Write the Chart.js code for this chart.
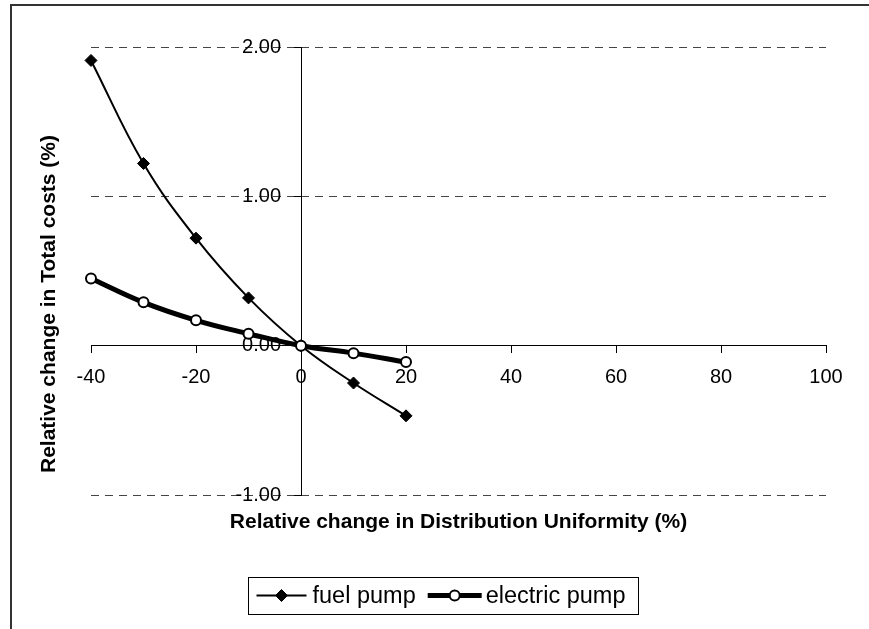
<!DOCTYPE html>
<html><head><meta charset="utf-8">
<script src="https://cdn.jsdelivr.net/npm/chart.js@4.4.1/dist/chart.umd.min.js"></script>
<style>html,body{margin:0;padding:0;background:#fff;overflow:hidden;} #wrap{width:869px;height:629px;}</style>
</head><body><div id="wrap"><canvas id="c" width="869" height="629"></canvas></div>
<script>
const xValues = [-40, -30, -20, -10, 0, 10, 20];
const fuelPump = [1.91, 1.22, 0.72, 0.32, 0.00, -0.25, -0.47];
const electricPump = [0.45, 0.29, 0.17, 0.08, 0.00, -0.05, -0.11];
const xTicks = [-40, -20, 0, 20, 40, 60, 80, 100];
const yTicks = [-1, 0, 1, 2];
const seriesNames = ['fuel pump', 'electric pump'];
const xTitle = 'Relative change in Distribution Uniformity (%)';
const yTitle = 'Relative change in Total costs (%)';

const FONT = "'Liberation Sans', Arial, sans-serif";
const toPts = arr => xValues.map((x, i) => ({x: x, y: arr[i]}));

const decor = {
  id: 'decor',
  afterDraw(chart) {
    const ctx = chart.ctx, ca = chart.chartArea;
    ctx.save();
    // outer frame
    ctx.strokeStyle = '#333'; ctx.lineWidth = 2;
    ctx.beginPath(); ctx.moveTo(11, chart.height + 2); ctx.lineTo(11, 5); ctx.lineTo(chart.width + 2, 5); ctx.stroke();
    // axis titles
    ctx.fillStyle = '#000';
    ctx.font = 'bold 21px ' + FONT;
    ctx.textAlign = 'center'; ctx.textBaseline = 'alphabetic';
    ctx.fillText(xTitle, (ca.left + ca.right) / 2, ca.bottom + 33);
    ctx.save();
    ctx.translate(ca.left - 41.5, (ca.top + ca.bottom) / 2 + 33);
    ctx.rotate(-Math.PI / 2);
    ctx.textBaseline = 'middle';
    ctx.fillText(yTitle, 0, 0);
    ctx.restore();
    // legend
    ctx.font = '23.5px ' + FONT;
    const ds = chart.data.datasets;
    const items = [{d: ds[0], line: 50, gap: 6}, {d: ds[1], line: 54, gap: 4}];
    const padL = 8, padR = 13, between = 12;
    let total = padL + padR + between;
    items.forEach(it => { it.w = ctx.measureText(it.d.label).width; total += it.line + it.gap + it.w; });
    const cx = (ca.left + ca.right) / 2 - 15.5, cy = ca.bottom + 100.5;
    const left = Math.round(cx - total / 2) + 0.5, top = Math.round(cy - 18.5) + 0.5;
    ctx.strokeStyle = '#000'; ctx.lineWidth = 1;
    ctx.strokeRect(left, top, Math.round(total), 37);
    let x = left + padL;
    items.forEach((it, i) => {
      const d = it.d;
      ctx.strokeStyle = d.borderColor; ctx.lineWidth = d.borderWidth;
      ctx.beginPath(); ctx.moveTo(x, cy); ctx.lineTo(x + it.line, cy); ctx.stroke();
      ctx.fillStyle = d.pointBackgroundColor; ctx.strokeStyle = d.pointBorderColor; ctx.lineWidth = d.pointBorderWidth;
      Chart.helpers.drawPoint(ctx, {pointStyle: d.pointStyle, radius: d.pointRadius, rotation: 0, borderWidth: d.pointBorderWidth}, x + it.line / 2, cy);
      x += it.line + it.gap;
      ctx.fillStyle = '#000'; ctx.textAlign = 'left'; ctx.textBaseline = 'middle';
      ctx.fillText(d.label, x, cy + 1);
      x += it.w + (i === 0 ? between : 0);
    });
    ctx.restore();
  }
};

new Chart(document.getElementById('c'), {
  type: 'line',
  data: {
    datasets: [
      {label: seriesNames[0], data: toPts(fuelPump), borderColor: '#000', borderWidth: 2,
       pointStyle: 'rectRot', pointRadius: 6, pointBackgroundColor: '#000', pointBorderColor: '#000', pointBorderWidth: 1,
       tension: 0.4, order: 1, fill: false, clip: false},
      {label: seriesNames[1], data: toPts(electricPump), borderColor: '#000', borderWidth: 5,
       pointStyle: 'circle', pointRadius: 5, pointBackgroundColor: '#fff', pointBorderColor: '#000', pointBorderWidth: 2,
       tension: 0.4, order: 0, fill: false, clip: false}
    ]
  },
  options: {
    responsive: false, animation: false, devicePixelRatio: 1,
    layout: {padding: {left: 91, right: 43, top: 47, bottom: 134}},
    plugins: {legend: {display: false}, tooltip: {enabled: false}},
    scales: {
      x: {
        type: 'linear', min: -40, max: 100, position: {y: 0},
        afterBuildTicks: s => { s.ticks = xTicks.map(v => ({value: v})); },
        grid: {drawOnChartArea: false, drawTicks: true, tickLength: 7, color: '#000', tickColor: '#000'},
        border: {display: true, color: '#000', width: 1},
        ticks: {font: {family: FONT, size: 20}, color: '#000', maxRotation: 0, autoSkip: false, padding: 13}
      },
      y: {
        type: 'linear', min: -1, max: 2, position: {x: 0},
        afterBuildTicks: s => { s.ticks = yTicks.map(v => ({value: v})); },
        grid: {drawOnChartArea: true, drawTicks: true, tickLength: 7,
               color: c => (c.tick && c.tick.value === 0) ? 'rgba(0,0,0,0)' : '#444', tickColor: '#000'},
        border: {display: true, color: '#000', width: 1, dash: [8, 6]},
        ticks: {font: {family: FONT, size: 20}, color: '#000', autoSkip: false, padding: 4,
                callback: v => Number(v).toFixed(2) + '\u2003'}
      }
    }
  },
  plugins: [decor]
});
</script></body></html>
